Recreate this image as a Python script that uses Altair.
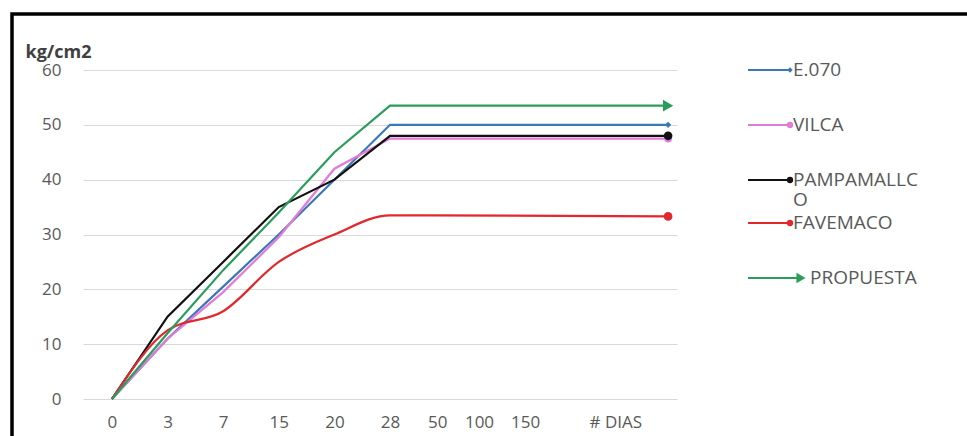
import altair as alt
import pandas as pd

# Curing age categories (index along the x axis) and strength readings in kg/cm2
x_index = [0, 1, 2, 3, 4, 5, 10]
series_names = ["E.070", "VILCA", "PAMPAMALLCO", "FAVEMACO", "PROPUESTA"]
e070 = [0, 11, 20.5, 30, 40, 50, 50]
vilca = [0, 11, 19.5, 29.5, 42, 47.5, 47.5]
pampamallco = [0, 15, 25, 35, 40, 48, 48]
favemaco = [0, 12.5, 16, 25, 30, 33.5, 33.3]
propuesta = [0, 12, 23.5, 34, 45, 53.5, 53.5]

# X axis labels and where they sit along the category index
tick_values = [0, 1, 2, 3, 4, 5, 5.85, 6.6, 7.43, 9.05]
tick_labels = ["0", "3", "7", "15", "20", "28", "50", "100", "150", "# DIAS"]
y_ticks = [0, 10, 20, 30, 40, 50, 60]

values = [e070, vilca, pampamallco, favemaco, propuesta]
colors = ["#3b78b8", "#e27ad8", "#111111", "#e0282e", "#2a9d5c"]
interp = ["linear", "linear", "linear", "monotone", "linear"]
end_shapes = ["diamond", "circle", "circle", "circle", "triangle-right"]
end_sizes = [40, 60, 75, 75, 140]

FONT = "Open Sans"
GREY = "#595959"

W, H = 594, 329
PAD_L, PAD_T = 83, 70

x_scale = alt.Scale(domain=[-0.52, 10.16], nice=False, zero=False)
y_scale = alt.Scale(domain=[0, 60], nice=False)

label_expr = "{}[indexof({}, datum.value)]".format(
    "[" + ",".join("'" + t + "'" for t in tick_labels) + "]",
    "[" + ",".join(str(v) for v in tick_values) + "]",
)

x_axis = alt.Axis(values=tick_values, labelExpr=label_expr, title=None, grid=False,
                  domain=False, ticks=False, labelFont=FONT, labelFontSize=17,
                  labelColor=GREY, labelPadding=15, labelOverlap=False, labelFlush=False)
y_axis = alt.Axis(values=y_ticks, title="kg/cm2", titleAngle=0,
                  titleAlign="left", titleBaseline="alphabetic", titleX=-58, titleY=-13,
                  titleFont=FONT, titleFontSize=18, titleFontWeight="bold", titleColor="#404040",
                  grid=True, gridColor="#d9d9d9", gridWidth=1.2, domain=False, ticks=False,
                  labelFont=FONT, labelFontSize=17, labelColor=GREY, labelPadding=22)

X = alt.X("x:Q", scale=x_scale, axis=x_axis)
Y = alt.Y("y:Q", scale=y_scale, axis=y_axis)

layers = []

# Frame around the figure
frame = alt.Chart(pd.DataFrame({"k": [0]})).mark_rect(
    filled=False, stroke="black", strokeWidth=3.5
).encode(
    x=alt.value(-71), x2=alt.value(900), y=alt.value(-56), y2=alt.value(380)
)
layers.append(frame)

for name, vals, col, itp, shp, sz in zip(series_names, values, colors, interp, end_shapes, end_sizes):
    df = pd.DataFrame({"x": x_index, "y": vals, "serie": name})
    line = alt.Chart(df).mark_line(color=col, strokeWidth=2.2, interpolate=itp).encode(x=X, y=Y)
    end = alt.Chart(df.tail(1)).mark_point(
        shape=shp, filled=True, color=col, size=sz, opacity=1
    ).encode(x=X, y=Y)
    layers += [line, end]

# Legend drawn beside the plot
legend_rows = [0, 55, 110, 153, 208]
legend_text = [["E.070"], ["VILCA"], ["PAMPAMALLC", "O"], ["FAVEMACO"], ["PROPUESTA"]]
for i, (name, col, shp) in enumerate(zip(series_names, colors, end_shapes)):
    ly = legend_rows[i]
    one = pd.DataFrame({"serie": [name]})
    arrow = shp == "triangle-right"
    x_end = 718 if arrow else 707
    layers.append(alt.Chart(one).mark_rule(color=col, strokeWidth=2).encode(
        x=alt.value(665), x2=alt.value(x_end), y=alt.value(ly)))
    layers.append(alt.Chart(one).mark_point(
        shape=shp, filled=True, color=col, opacity=1,
        size=110 if arrow else (30 if shp == "diamond" else 40)
    ).encode(x=alt.value(x_end), y=alt.value(ly)))
    layers.append(alt.Chart(one).mark_text(
        align="left", baseline="middle", font=FONT, fontSize=19, color=GREY,
        lineHeight=20, text=legend_text[i]
    ).encode(x=alt.value(727 if arrow else 710), y=alt.value(ly)))

chart = alt.layer(*layers).properties(
    width=W, height=H,
    autosize=alt.AutoSizeParams(type="none"),
    padding={"left": PAD_L, "top": PAD_T, "right": 967 - PAD_L - W, "bottom": 436 - PAD_T - H},
    background="white",
).configure_view(stroke=None)

chart.save("out.html", embed_options={"renderer": "svg", "actions": False})
